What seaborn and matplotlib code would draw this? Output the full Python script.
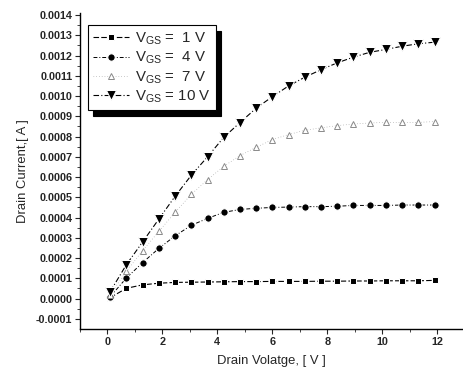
import matplotlib
matplotlib.use("Agg")
import matplotlib.pyplot as plt
import matplotlib.legend as mlegend
import matplotlib.patches as mpatches
import seaborn as sns
import pandas as pd

# ---- data ----
drain_v = [0.1, 0.69, 1.28, 1.87, 2.46, 3.05, 3.64, 4.23, 4.82, 5.41, 6.0,
           6.59, 7.18, 7.77, 8.36, 8.95, 9.54, 10.13, 10.72, 11.31, 11.9]
id_vgs1 = [0.000005, 0.000051, 0.000068, 0.000076, 0.00008, 0.000081, 0.000082,
           0.000083, 0.000084, 0.000084, 0.000085, 0.000085, 0.000085, 0.000086,
           0.000086, 0.000087, 0.000087, 0.000088, 0.000088, 0.000088, 0.00009]
id_vgs4 = [0.00001, 0.000102, 0.000178, 0.000248, 0.00031, 0.000362, 0.000396,
           0.000426, 0.00044, 0.000446, 0.00045, 0.000452, 0.000454, 0.000454,
           0.000456, 0.00046, 0.00046, 0.00046, 0.000462, 0.000462, 0.000462]
id_vgs7 = [0.00002, 0.000135, 0.000237, 0.000332, 0.000426, 0.000515, 0.000587,
           0.000653, 0.000706, 0.000747, 0.000785, 0.00081, 0.000831, 0.000843,
           0.000854, 0.000862, 0.000867, 0.00087, 0.00087, 0.00087, 0.000874]
id_vgs10 = [0.000035, 0.000168, 0.00028, 0.000393, 0.000505, 0.000609, 0.0007,
            0.000796, 0.000869, 0.00094, 0.000997, 0.00105, 0.001093, 0.00113,
            0.001164, 0.001192, 0.001216, 0.00123, 0.001246, 0.001258, 0.001266]
series_labels = [r"$\mathregular{V_{GS}}$ =  1 V", r"$\mathregular{V_{GS}}$ =  4 V",
                 r"$\mathregular{V_{GS}}$ =  7 V", r"$\mathregular{V_{GS}}$ = 10 V"]
x_ticks = [0, 2, 4, 6, 8, 10, 12]
y_ticks = [-0.0001, 0.0, 0.0001, 0.0002, 0.0003, 0.0004, 0.0005, 0.0006, 0.0007,
           0.0008, 0.0009, 0.0010, 0.0011, 0.0012, 0.0013, 0.0014]
y_tick_labels = ["-0.0001", "0.0000", "0.0001", "0.0002", "0.0003", "0.0004",
                 "0.0005", "0.0006", "0.0007", "0.0008", "0.0009", "0.0010",
                 "0.0011", "0.0012", "0.0013", "0.0014"]


# thicker legend drop shadow, like the reference
class _BigShadow(mpatches.Shadow):
    def __init__(self, patch, ox, oy, **kwargs):
        super().__init__(patch, 3.8, -3.8, **kwargs)


mlegend.Shadow = _BigShadow

sns.set_style("ticks")
plt.rcParams["font.family"] = ["Liberation Sans", "DejaVu Sans"]
plt.rcParams["mathtext.fontset"] = "custom"
plt.rcParams["mathtext.rm"] = "Liberation Sans"

fig = plt.figure(figsize=(4.63, 3.77), dpi=100)
ax = fig.add_axes([80 / 463, 48 / 377, 382 / 463, 316 / 377])

styles = [
    dict(marker="s", markersize=4.8, color="black", linestyle=(0, (5, 2)), linewidth=0.8),
    dict(marker="o", markersize=5.3, color="black", linestyle=(0, (4, 2, 1, 2)), linewidth=0.7),
    dict(marker="^", markersize=4, color="#9a9a9a", markerfacecolor="white",
         markeredgecolor="#8a8a8a", markeredgewidth=0.7, linestyle=(0, (1, 3)), linewidth=0.5),
    dict(marker="v", markersize=6.5, color="black", linestyle=(0, (5, 2, 1, 2)), linewidth=0.8),
]
all_y = [id_vgs1, id_vgs4, id_vgs7, id_vgs10]
for yv, lab, st in zip(all_y, series_labels, styles):
    df = pd.DataFrame({"x": drain_v, "y": yv})
    sns.lineplot(data=df, x="x", y="y", ax=ax, label=lab, **st)

ax.set_xlim(-1, 12.9)
ax.set_ylim(-0.00015, 0.00141)
ax.set_xticks(x_ticks)
ax.set_xticks([-1, 1, 3, 5, 7, 9, 11], minor=True)
ax.set_yticks(y_ticks)
ax.set_yticklabels(y_tick_labels)
ax.set_yticks([v + 0.00005 for v in y_ticks[:-1]], minor=True)
ax.tick_params(axis="both", which="major", direction="out", length=3.5, width=0.8,
               labelsize=7.8, pad=2)
ax.tick_params(axis="both", which="minor", direction="out", length=2, width=0.6)
for lbl in ax.get_xticklabels() + ax.get_yticklabels():
    lbl.set_fontweight("bold")

for s in ["top", "right"]:
    ax.spines[s].set_visible(False)
for s in ["left", "bottom"]:
    ax.spines[s].set_linewidth(1.0)
    ax.spines[s].set_color("black")

ax.set_xlabel("Drain Volatge, [ V ]", fontsize=9.4, labelpad=6)
ax.set_ylabel("Drain Current,[ A ]", fontsize=9.4, labelpad=5)

leg = ax.legend(loc="upper left", bbox_to_anchor=(0.0, 0.985), fontsize=10.8,
                frameon=True, fancybox=False, shadow={"color": "black", "alpha": 1},
                edgecolor="black", framealpha=1, handlelength=2.4, handletextpad=0.4,
                labelspacing=0.2, borderpad=0.35)
leg.get_frame().set_linewidth(0.8)

fig.savefig("out.png", dpi=100)
